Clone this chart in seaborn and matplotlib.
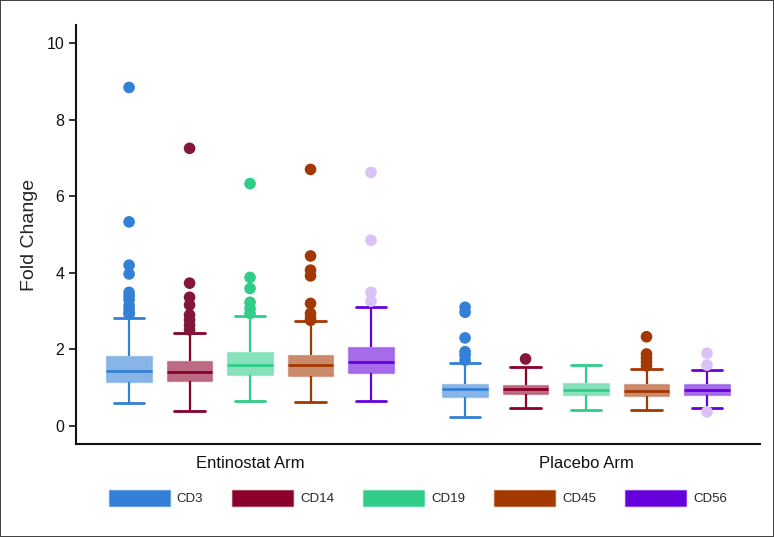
import matplotlib
matplotlib.use("Agg")
import matplotlib.pyplot as plt
from matplotlib.colors import to_rgba
from matplotlib.patches import Patch
import seaborn as sns
import pandas as pd

# ---------------- data ----------------
arms = ["Entinostat Arm", "Placebo Arm"]
markers = ["CD3", "CD14", "CD19", "CD45", "CD56"]

# box summaries: [lower whisker, Q1, median, Q3, upper whisker]
entinostat_boxes = {
    "CD3":  [0.59, 1.15, 1.44, 1.83, 2.82],
    "CD14": [0.40, 1.17, 1.40, 1.69, 2.44],
    "CD19": [0.65, 1.32, 1.60, 1.92, 2.88],
    "CD45": [0.63, 1.31, 1.58, 1.86, 2.74],
    "CD56": [0.65, 1.38, 1.67, 2.07, 3.11],
}
placebo_boxes = {
    "CD3":  [0.24, 0.76, 0.96, 1.10, 1.65],
    "CD14": [0.48, 0.84, 0.97, 1.08, 1.54],
    "CD19": [0.41, 0.80, 0.94, 1.11, 1.58],
    "CD45": [0.42, 0.79, 0.92, 1.09, 1.50],
    "CD56": [0.47, 0.82, 0.95, 1.10, 1.46],
}

# outliers
entinostat_outliers = {
    "CD3":  [8.84, 5.33, 4.20, 3.97, 3.49, 3.40, 3.30, 3.15, 3.05, 2.95, 2.92],
    "CD14": [7.25, 3.73, 3.36, 3.16, 2.90, 2.77, 2.64, 2.51],
    "CD19": [6.33, 3.88, 3.59, 3.23, 3.07, 2.94],
    "CD45": [6.70, 4.44, 4.07, 3.92, 3.20, 2.94, 2.82, 2.76],
    "CD56": [6.62, 4.85, 3.49, 3.26],
}
placebo_outliers = {
    "CD3":  [3.10, 2.97, 2.30, 1.94, 1.85, 1.72],
    "CD14": [1.75],
    "CD19": [],
    "CD45": [2.33, 1.88, 1.78, 1.67, 1.57],
    "CD56": [1.90, 1.59, 0.37],
}

main_colors = ["#3380D6", "#8B0029", "#30CC88", "#A33800", "#6600DD"]
outlier_colors = ["#3380D6", "#82173A", "#30CC88", "#A33800", "#D9C2F7"]
yticks = [0, 2, 4, 6, 8, 10]

# ---------------- build tables ----------------
box_rows, out_rows = [], []
for arm, boxes, outs in [(arms[0], entinostat_boxes, entinostat_outliers),
                         (arms[1], placebo_boxes, placebo_outliers)]:
    for m in markers:
        for v in boxes[m]:
            box_rows.append((arm, m, v))
        for v in outs[m]:
            out_rows.append((arm, m, v))
box_df = pd.DataFrame(box_rows, columns=["Arm", "Marker", "Value"])
out_df = pd.DataFrame(out_rows, columns=["Arm", "Marker", "Value"])

# ---------------- figure ----------------
sns.set_theme(style="white")
plt.rcParams["font.family"] = ["Liberation Sans", "DejaVu Sans"]

fig = plt.figure(figsize=(7.74, 5.37), dpi=100, linewidth=1.2, edgecolor="#444444")
ax = fig.add_axes([0.0982, 0.1732, 0.8838, 0.7802])

sns.boxplot(data=box_df, x="Arm", y="Value", hue="Marker", order=arms,
            hue_order=markers, palette=main_colors, whis=(0, 100),
            width=0.9, gap=0.25, showfliers=False, linewidth=1.6,
            legend=False, ax=ax)

centers = {}
for cont, m, c in zip(ax.containers, markers, main_colors):
    for b in cont.boxes:
        b.set_facecolor(to_rgba(c, 0.58))
        b.set_edgecolor(to_rgba(c, 0.25))
        b.set_linewidth(1.0)
    for j, med in enumerate(cont.medians):
        med.set_color(c)
        med.set_linewidth(2.0)
        xd = med.get_xdata()
        centers[(arms[j], m)] = (xd[0] + xd[-1]) / 2
    for w in cont.whiskers:
        w.set_color(c)
        w.set_linewidth(1.6)
    for cap in cont.caps:
        cap.set_color(c)
        cap.set_linewidth(2.0)
        xd = cap.get_xdata()
        mid = (xd[0] + xd[-1]) / 2
        half = (xd[-1] - xd[0]) / 2 * 1.33
        cap.set_xdata([mid - half, mid + half])

out_df["x"] = [centers[(a, m)] for a, m in zip(out_df["Arm"], out_df["Marker"])]
sns.scatterplot(data=out_df, x="x", y="Value", hue="Marker", hue_order=markers,
                palette=outlier_colors, s=70, linewidth=0, alpha=1,
                legend=False, ax=ax, zorder=3)

ax.set_xlim(-0.518, 1.518)
ax.set_ylim(-0.47, 10.47)
ax.set_xticks([0, 1])
ax.set_xticklabels(arms, fontsize=12)
ax.set_yticks(yticks)
ax.set_yticklabels([str(t) for t in yticks], fontsize=11.5)
ax.set_xlabel("")
ax.set_ylabel("Fold Change", fontsize=14, labelpad=6)
ax.tick_params(axis="x", length=0, pad=9, colors="#111111")
ax.tick_params(axis="y", length=5, width=1.2, colors="#111111", direction="out", left=True)
for s in ["top", "right"]:
    ax.spines[s].set_visible(False)
for s in ["left", "bottom"]:
    ax.spines[s].set_color("#111111")
    ax.spines[s].set_linewidth(1.5)

handles = [Patch(facecolor=c, edgecolor=to_rgba(c, 0.45), linewidth=1.0, label=m)
           for m, c in zip(markers, main_colors)]
fig.legend(handles=handles, loc="center", bbox_to_anchor=(0.54, 0.073),
           ncol=5, frameon=False, fontsize=9.5, handlelength=4.6,
           handleheight=1.5, handletextpad=0.55, columnspacing=2.2)

fig.savefig("out.png", dpi=100)
